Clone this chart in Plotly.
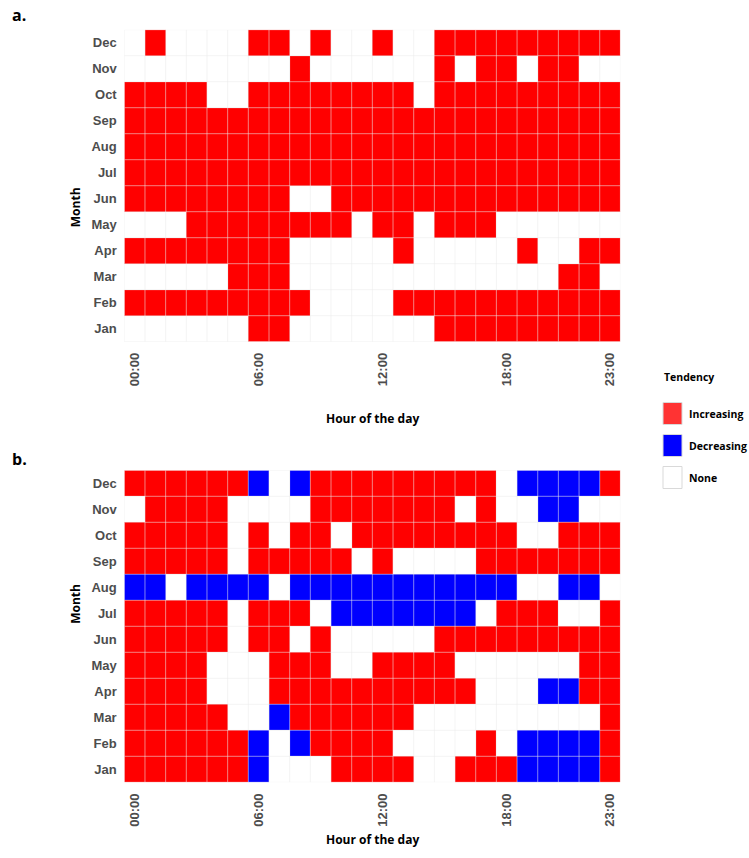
import plotly.graph_objects as go

hours = list(range(24))
hour_ticks = [0, 6, 12, 18, 23]
hour_labels = ["00:00", "06:00", "12:00", "18:00", "23:00"]
months = ["Jan", "Feb", "Mar", "Apr", "May", "Jun", "Jul", "Aug", "Sep", "Oct", "Nov", "Dec"]

# 1 = Increasing, 0 = None, -1 = Decreasing ; rows Jan..Dec, columns hour 0..23
tendency_a = [
    [0, 0, 0, 0, 0, 0, 1, 1, 0, 0, 0, 0, 0, 0, 0, 1, 1, 1, 1, 1, 1, 1, 1, 1],  # Jan
    [1, 1, 1, 1, 1, 1, 1, 1, 1, 0, 0, 0, 0, 1, 1, 1, 1, 1, 1, 1, 1, 1, 1, 1],  # Feb
    [0, 0, 0, 0, 0, 1, 1, 1, 0, 0, 0, 0, 0, 0, 0, 0, 0, 0, 0, 0, 0, 1, 1, 0],  # Mar
    [1, 1, 1, 1, 1, 1, 1, 1, 0, 0, 0, 0, 0, 1, 0, 0, 0, 0, 0, 1, 0, 0, 1, 1],  # Apr
    [0, 0, 0, 1, 1, 1, 1, 1, 1, 1, 1, 0, 1, 1, 0, 1, 1, 1, 0, 0, 0, 0, 0, 0],  # May
    [1, 1, 1, 1, 1, 1, 1, 1, 0, 0, 1, 1, 1, 1, 1, 1, 1, 1, 1, 1, 1, 1, 1, 1],  # Jun
    [1, 1, 1, 1, 1, 1, 1, 1, 1, 1, 1, 1, 1, 1, 1, 1, 1, 1, 1, 1, 1, 1, 1, 1],  # Jul
    [1, 1, 1, 1, 1, 1, 1, 1, 1, 1, 1, 1, 1, 1, 1, 1, 1, 1, 1, 1, 1, 1, 1, 1],  # Aug
    [1, 1, 1, 1, 1, 1, 1, 1, 1, 1, 1, 1, 1, 1, 1, 1, 1, 1, 1, 1, 1, 1, 1, 1],  # Sep
    [1, 1, 1, 1, 0, 0, 1, 1, 1, 1, 1, 1, 1, 1, 0, 1, 1, 1, 1, 1, 1, 1, 1, 1],  # Oct
    [0, 0, 0, 0, 0, 0, 0, 0, 1, 0, 0, 0, 0, 0, 0, 1, 0, 1, 1, 0, 1, 1, 0, 0],  # Nov
    [0, 1, 0, 0, 0, 0, 1, 1, 0, 1, 0, 0, 1, 0, 0, 1, 1, 1, 1, 1, 1, 1, 1, 1],  # Dec
]

tendency_b = [
    [1, 1, 1, 1, 1, 1, -1, 0, 0, 0, 1, 1, 1, 1, 0, 0, 1, 1, 1, -1, -1, -1, -1, 1],  # Jan
    [1, 1, 1, 1, 1, 1, -1, 0, -1, 1, 1, 1, 1, 0, 0, 0, 0, 1, 0, -1, -1, -1, -1, 1],  # Feb
    [1, 1, 1, 1, 1, 0, 0, -1, 1, 1, 1, 1, 1, 1, 0, 0, 0, 0, 0, 0, 0, 0, 0, 1],  # Mar
    [1, 1, 1, 1, 0, 0, 0, 1, 1, 1, 1, 1, 1, 1, 1, 1, 1, 0, 0, 0, -1, -1, 1, 1],  # Apr
    [1, 1, 1, 1, 0, 0, 0, 1, 1, 1, 0, 0, 1, 1, 1, 1, 0, 0, 0, 0, 0, 0, 1, 1],  # May
    [1, 1, 1, 1, 1, 0, 1, 1, 0, 1, 0, 0, 0, 0, 0, 1, 1, 1, 1, 1, 1, 1, 1, 1],  # Jun
    [1, 1, 1, 1, 1, 0, 1, 1, 1, 0, -1, -1, -1, -1, -1, -1, -1, 0, 1, 1, 1, 0, 0, 1],  # Jul
    [-1, -1, 0, -1, -1, -1, -1, 0, -1, -1, -1, -1, -1, -1, -1, -1, -1, -1, -1, 0, 0, -1, -1, 0],  # Aug
    [1, 1, 1, 1, 1, 0, 1, 1, 1, 1, 1, 0, 1, 0, 0, 0, 0, 1, 1, 1, 1, 1, 1, 1],  # Sep
    [1, 1, 1, 1, 1, 0, 1, 0, 1, 1, 0, 1, 1, 1, 1, 1, 1, 1, 1, 0, 0, 1, 1, 1],  # Oct
    [0, 1, 1, 1, 1, 0, 0, 0, 0, 1, 1, 1, 1, 1, 1, 1, 0, 1, 0, 0, -1, -1, 0, 0],  # Nov
    [1, 1, 1, 1, 1, 1, -1, 0, -1, 1, 1, 1, 1, 1, 1, 1, 1, 1, 0, -1, -1, -1, -1, 1],  # Dec
]

legend_title = "Tendency"
legend_names = ["Increasing", "Decreasing", "None"]
legend_colors = ["#ff3333", "#0000ff", "#ffffff"]

W, H = 749, 858
colorscale = [[0.0, "#0000ff"], [0.5, "#ffffff"], [1.0, "#ff0000"]]


def py(px):
    return 1 - px / H


def pxx(px):
    return px / W


fig = go.Figure()
for z, xa, ya in [(tendency_a, "x", "y"), (tendency_b, "x2", "y2")]:
    fig.add_trace(go.Heatmap(
        z=z, x=hours, y=months, xaxis=xa, yaxis=ya,
        zmin=-1, zmax=1, colorscale=colorscale, showscale=False,
        hoverinfo="skip",
    ))

# cell border lines drawn above the tiles
shapes = []
for xr, yr in [("x", "y"), ("x2", "y2")]:
    for i in range(25):
        shapes.append(dict(type="line", xref=xr, yref=yr, x0=i - 0.5, x1=i - 0.5, y0=-0.5, y1=11.5,
                           line=dict(color="rgba(235,235,235,0.55)", width=1), layer="above"))
    for j in range(13):
        shapes.append(dict(type="line", xref=xr, yref=yr, x0=-0.5, x1=23.5, y0=j - 0.5, y1=j - 0.5,
                           line=dict(color="rgba(235,235,235,0.55)", width=1), layer="above"))

title_font = dict(family="Open Sans", size=12, color="#000000", weight="bold")
legend_font = dict(family="Open Sans", size=10.5, color="#000000", weight="bold")

annotations = [
    dict(text="a.", x=pxx(10), y=py(2), xref="paper", yref="paper", xanchor="left", yanchor="top",
         showarrow=False, font=dict(family="Open Sans", size=16, color="#000", weight="bold")),
    dict(text="b.", x=pxx(10), y=py(446), xref="paper", yref="paper", xanchor="left", yanchor="top",
         showarrow=False, font=dict(family="Open Sans", size=16, color="#000", weight="bold")),
    dict(text="Month", x=pxx(65), y=py(185.7), xref="paper", yref="paper", textangle=-90,
         showarrow=False, font=title_font),
    dict(text="Month", x=pxx(65), y=py(626.3), xref="paper", yref="paper", textangle=-90,
         showarrow=False, font=title_font),
    dict(text="Hour of the day", x=pxx(372), y=py(418), xref="paper", yref="paper",
         showarrow=False, font=title_font),
    dict(text="Hour of the day", x=pxx(372), y=py(850), xref="paper", yref="paper",
         showarrow=False, font=title_font),
    dict(text=legend_title, x=pxx(662), y=py(377), xref="paper", yref="paper", xanchor="left",
         yanchor="middle", showarrow=False, font=legend_font),
]

# manual legend (keys + labels)
for k, (name, col) in enumerate(zip(legend_names, legend_colors)):
    top = 402.5 + k * 32
    shapes.append(dict(type="rect", xref="paper", yref="paper",
                       x0=pxx(663), x1=pxx(682), y0=py(top + 22), y1=py(top),
                       fillcolor=col, line=dict(color="#d9d9d9", width=1), layer="above"))
    annotations.append(dict(text=name, x=pxx(687), y=py(top + 11), xref="paper", yref="paper",
                            xanchor="left", yanchor="middle", showarrow=False, font=legend_font))

xdom = [124.3 / W, 620.4 / W]
tick_font = dict(family="Liberation Sans", size=13, color="#4d4d4d", weight="bold")
xaxis_common = dict(domain=xdom, range=[-0.5, 23.5], tickvals=hour_ticks, ticktext=hour_labels,
                    tickangle=-90, tickfont=tick_font, showgrid=False, zeroline=False,
                    ticks="outside", ticklen=5, tickcolor="rgba(0,0,0,0)", fixedrange=True)
yaxis_common = dict(range=[-0.5, 11.5], tickfont=tick_font, showgrid=False, zeroline=False,
                    ticks="outside", ticklen=4, tickcolor="rgba(0,0,0,0)", type="category",
                    fixedrange=True)

fig.update_layout(
    width=W, height=H,
    margin=dict(l=0, r=0, t=0, b=0, autoexpand=False),
    paper_bgcolor="white", plot_bgcolor="white",
    xaxis=dict(xaxis_common, anchor="y"),
    yaxis=dict(yaxis_common, domain=[py(341.7), py(29.7)], anchor="x"),
    xaxis2=dict(xaxis_common, anchor="y2"),
    yaxis2=dict(yaxis_common, domain=[py(782.3), py(470.3)], anchor="x2"),
    shapes=shapes,
    annotations=annotations,
    showlegend=False,
)

fig.write_html("out.html")
